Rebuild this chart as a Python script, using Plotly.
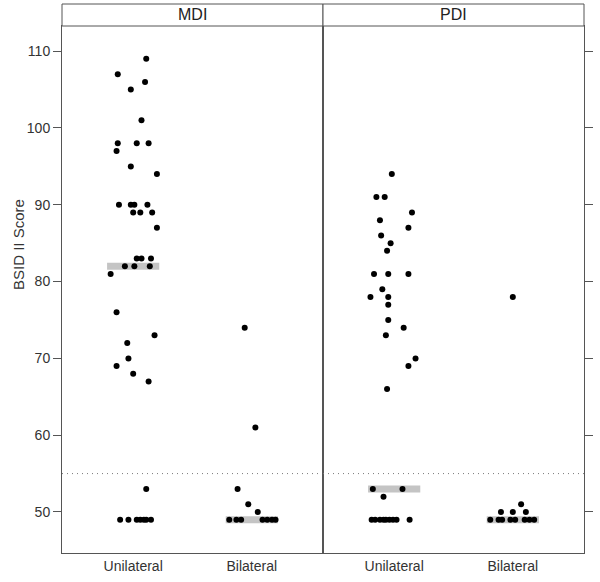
import plotly.graph_objects as go

categories = ["Unilateral", "Bilateral"]
panels = ["MDI", "PDI"]
cutoff = 55

mdi_uni_scores = [109, 107, 106, 105, 101, 98, 98, 98, 97, 95, 94, 90, 90, 90, 90, 89, 89, 89, 87,
                  83, 83, 83, 82, 82, 82, 81, 76, 73, 72, 70, 69, 68, 67, 53, 49, 49, 49, 49, 49, 49, 49]
mdi_uni_jitter = [0.11, -0.13, 0.10, -0.02, 0.07, -0.13, 0.03, 0.13, -0.14, -0.02, 0.20, -0.12, -0.02, 0.01,
                  0.12, 0.00, 0.06, 0.16, 0.20, 0.03, 0.07, 0.15, -0.07, 0.01, 0.14, -0.19, -0.14, 0.18,
                  -0.05, -0.04, -0.14, 0.00, 0.13, 0.11, -0.11, -0.04, 0.03, 0.06, 0.09, 0.11, 0.15]

mdi_bi_scores = [74, 61, 53, 51, 50, 49, 49, 49, 49, 49, 49, 49]
mdi_bi_jitter = [-0.06, 0.03, -0.12, -0.03, 0.05, -0.19, -0.13, -0.09, 0.09, 0.13, 0.17, 0.20]

pdi_uni_scores = [94, 91, 91, 89, 88, 87, 86, 85, 84, 81, 81, 81, 79, 78, 78, 77, 75, 74, 73, 70, 69, 66,
                  53, 53, 52, 49, 49, 49, 49, 49, 49, 49, 49, 49]
pdi_uni_jitter = [-0.02, -0.15, -0.08, 0.15, -0.12, 0.12, -0.11, -0.03, -0.06, -0.17, -0.05, 0.12, -0.10,
                  -0.20, -0.05, -0.05, -0.05, 0.08, -0.07, 0.18, 0.12, -0.06, -0.18, 0.07, -0.09,
                  -0.19, -0.16, -0.12, -0.09, -0.07, -0.04, -0.01, 0.02, 0.13]

pdi_bi_scores = [78, 51, 50, 50, 50, 49, 49, 49, 49, 49, 49, 49, 49]
pdi_bi_jitter = [0.00, 0.07, -0.10, 0.00, 0.11, -0.19, -0.12, -0.09, -0.02, 0.02, 0.10, 0.14, 0.18]

mdi_bars = [82, 49]
pdi_bars = [53, 49]

y_ticks = [50, 60, 70, 80, 90, 100, 110]

data = {
    "MDI": {"scores": [mdi_uni_scores, mdi_bi_scores], "jitter": [mdi_uni_jitter, mdi_bi_jitter], "bars": mdi_bars},
    "PDI": {"scores": [pdi_uni_scores, pdi_bi_scores], "jitter": [pdi_uni_jitter, pdi_bi_jitter], "bars": pdi_bars},
}

FONT = "Liberation Sans, Arial, sans-serif"
AXCOL = "#555555"
BARCOL = "#c4c4c4"
half_w = 0.22

W, H = 600, 582
L, R, T, B = 62, 16, 26, 29
plot_h = H - T - B

fig = go.Figure()
for pi, panel in enumerate(panels):
    xa = "x" if pi == 0 else "x2"
    ya = "y" if pi == 0 else "y2"
    d = data[panel]
    fig.add_trace(go.Scatter(x=[0.4, 2.6], y=[cutoff, cutoff], mode="lines",
                             line=dict(color="#7a7a7a", width=1, dash="1px,4px"),
                             xaxis=xa, yaxis=ya, showlegend=False, hoverinfo="skip"))
    for ci, cat in enumerate(categories):
        pos = ci + 1
        m = d["bars"][ci]
        fig.add_trace(go.Scatter(x=[pos - half_w, pos + half_w], y=[m, m], mode="lines",
                                 line=dict(color=BARCOL, width=7),
                                 xaxis=xa, yaxis=ya, showlegend=False, hoverinfo="skip"))
    for ci, cat in enumerate(categories):
        pos = ci + 1
        xs = [pos + j for j in d["jitter"][ci]]
        fig.add_trace(go.Scatter(x=xs, y=d["scores"][ci], mode="markers",
                                 marker=dict(color="black", size=6),
                                 xaxis=xa, yaxis=ya, showlegend=False))

xcommon = dict(range=[0.4, 2.6], tickvals=[1, 2], ticktext=categories, showline=True, mirror=True,
               linecolor=AXCOL, linewidth=1, ticks="", showgrid=False, zeroline=False,
               tickfont=dict(family=FONT, size=14, color="#333333"), fixedrange=True, automargin=False)
ycommon = dict(range=[44.66, 113.28], tickvals=y_ticks, ticks="outside", ticklen=8, tickcolor=AXCOL,
               showline=True, mirror=True, linecolor=AXCOL, linewidth=1, showgrid=False, zeroline=False,
               tickfont=dict(family=FONT, size=14, color="#333333"), automargin=False)

strip_h = 22 / plot_h

fig.update_layout(
    width=W, height=H,
    margin=dict(l=L, r=R, t=T, b=B, autoexpand=False),
    paper_bgcolor="white", plot_bgcolor="white",
    xaxis=dict(domain=[0, 0.5], anchor="y", **xcommon),
    xaxis2=dict(domain=[0.5, 1], anchor="y2", **xcommon),
    yaxis=dict(anchor="x", **ycommon),
    yaxis2=dict(anchor="x2", side="right", showticklabels=False, matches="y", **ycommon),
    shapes=[
        dict(type="rect", xref="paper", yref="paper", x0=0, x1=0.5, y0=1, y1=1 + strip_h,
             line=dict(color=AXCOL, width=1), fillcolor="white"),
        dict(type="rect", xref="paper", yref="paper", x0=0.5, x1=1, y0=1, y1=1 + strip_h,
             line=dict(color=AXCOL, width=1), fillcolor="white"),
    ],
    annotations=[
        dict(text="MDI", xref="paper", yref="paper", x=0.25, y=1 + strip_h / 2, showarrow=False,
             xanchor="center", yanchor="middle", font=dict(family=FONT, size=16, color="#222222")),
        dict(text="PDI", xref="paper", yref="paper", x=0.75, y=1 + strip_h / 2, showarrow=False,
             xanchor="center", yanchor="middle", font=dict(family=FONT, size=16, color="#222222")),
        dict(text="BSID II Score", xref="paper", yref="paper", x=(19 - L) / (W - L - R),
             y=(553 - 245) / plot_h,
             showarrow=False, textangle=-90, xanchor="center", yanchor="middle",
             font=dict(family=FONT, size=15, color="#333333")),
    ],
)

fig.write_html("out.html", config={"displayModeBar": False},
               post_script="document.body.style.margin='0';")
